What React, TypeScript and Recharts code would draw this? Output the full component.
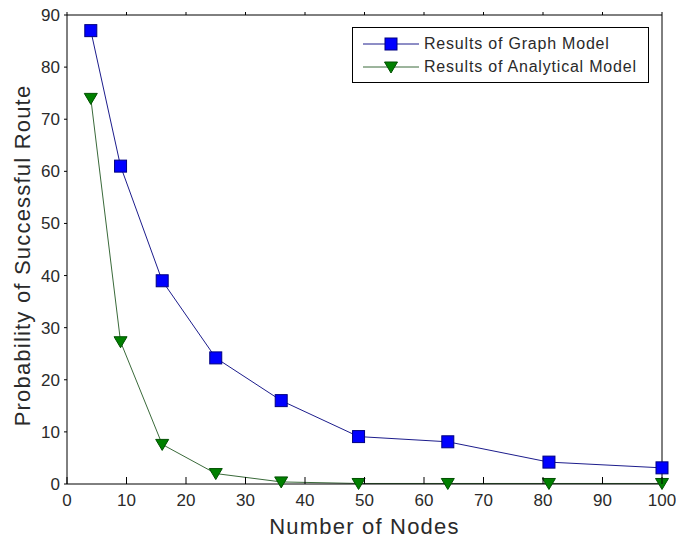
import React from "react";
import { LineChart, Line, XAxis, YAxis, Legend } from "recharts";

const nodes = [4, 9, 16, 25, 36, 49, 64, 81, 100];
const graphModel = [87, 61, 39, 24.2, 16, 9.1, 8.1, 4.2, 3.1];
const analyticalModel = [74, 27.3, 7.6, 2, 0.4, 0.1, 0.1, 0.1, 0.1];
const xTicks = [0, 10, 20, 30, 40, 50, 60, 70, 80, 90, 100];
const yTicks = [0, 10, 20, 30, 40, 50, 60, 70, 80, 90];

const data = nodes.map((n, i) => ({
  n,
  graph: graphModel[i],
  analytical: analyticalModel[i],
}));

const FONT = "'Liberation Sans', Arial, sans-serif";
const TEXT = "#2a2a2a";
const BLUE_LINE = "#1c1c8c";
const GREEN_LINE = "#3a6a3a";

function Square({ cx, cy }: any) {
  return <rect x={cx - 6} y={cy - 6} width={12} height={12} fill="#0000ff" stroke="#000080" strokeWidth={1} />;
}

function Triangle({ cx, cy }: any) {
  return (
    <polygon
      points={`${cx - 6.5},${cy - 5} ${cx + 6.5},${cy - 5} ${cx},${cy + 6}`}
      fill="#008000"
      stroke="#005000"
      strokeWidth={1}
    />
  );
}

// bottom ticks point into the plot, the others point outward (as in the source figure)
function BottomTick({ x, y, payload }: any) {
  return (
    <g>
      <line x1={x} y1={y} x2={x} y2={y - 7} stroke="#000" />
      <text x={x} y={y + 22} textAnchor="middle" fontSize={17} fill={TEXT} fontFamily={FONT}>
        {payload.value}
      </text>
    </g>
  );
}

function TopTick({ x, y }: any) {
  return <line x1={x} y1={y} x2={x} y2={y - 3} stroke="#000" />;
}

function LeftTick({ x, y, payload }: any) {
  return (
    <g>
      <line x1={x} y1={y} x2={x - 3} y2={y} stroke="#000" />
      <text x={x - 7} y={y + 6} textAnchor="end" fontSize={17} fill={TEXT} fontFamily={FONT}>
        {payload.value}
      </text>
    </g>
  );
}

function RightTick({ x, y }: any) {
  return <line x1={x} y1={y} x2={x + 3} y2={y} stroke="#000" />;
}

function LegendBox() {
  const row = (label: string, color: string, marker: React.ReactNode) => (
    <div style={{ display: "flex", alignItems: "center", height: 23 }}>
      <svg width={60} height={16} style={{ marginRight: 3 }}>
        <line x1={2} y1={8} x2={58} y2={8} stroke={color} strokeWidth={1} />
        {marker}
      </svg>
      <span style={{ fontSize: 16, letterSpacing: 0.8, color: TEXT, fontFamily: FONT, whiteSpace: "nowrap" }}>
        {label}
      </span>
    </div>
  );
  return (
    <div
      style={{
        border: "1px solid #000",
        background: "#fff",
        width: 287,
        padding: "4px 0 4px 8px",
      }}
    >
      {row("Results of Graph Model", BLUE_LINE, <Square cx={30} cy={8} />)}
      {row("Results of Analytical Model", GREEN_LINE, <Triangle cx={30} cy={8} />)}
    </div>
  );
}

export default function App() {
  return (
    <div style={{ position: "absolute", left: 0, top: 0, width: 676, height: 540, background: "#fff" }}>
      <LineChart width={676} height={540} data={data} margin={{ top: 14, right: 13, bottom: 0, left: 0 }}>
        <XAxis
          dataKey="n"
          type="number"
          domain={[0, 100]}
          ticks={xTicks}
          xAxisId="bottom"
          orientation="bottom"
          height={56}
          tickSize={0}
          tickMargin={0}
          axisLine={{ stroke: "#000" }}
          tick={<BottomTick />}
          label={({ viewBox }: any) => (
            <text
              x={viewBox.x + viewBox.width / 2}
              y={534}
              textAnchor="middle"
              fontSize={22}
              letterSpacing={1.2}
              fill={TEXT}
              fontFamily={FONT}
            >
              Number of Nodes
            </text>
          )}
        />
        <XAxis
          dataKey="n"
          type="number"
          domain={[0, 100]}
          ticks={xTicks}
          xAxisId="top"
          orientation="top"
          height={1}
          tickSize={0}
          tickMargin={0}
          axisLine={{ stroke: "#000" }}
          tick={<TopTick />}
        />
        <YAxis
          yAxisId="left"
          type="number"
          domain={[0, 90]}
          ticks={yTicks}
          width={67}
          tickSize={0}
          tickMargin={0}
          axisLine={{ stroke: "#000" }}
          tick={<LeftTick />}
          label={({ viewBox }: any) => {
            const cy = viewBox.y + viewBox.height / 2 + 6;
            return (
              <text
                x={30}
                y={cy}
                textAnchor="middle"
                fontSize={22}
                letterSpacing={1.2}
                fill={TEXT}
                fontFamily={FONT}
                transform={`rotate(-90, 30, ${cy})`}
              >
                Probability of Successful Route
              </text>
            );
          }}
        />
        <YAxis
          yAxisId="right"
          orientation="right"
          type="number"
          domain={[0, 90]}
          ticks={yTicks}
          width={1}
          tickSize={0}
          tickMargin={0}
          axisLine={{ stroke: "#000" }}
          tick={<RightTick />}
        />
        <Legend
          layout="vertical"
          align="center"
          verticalAlign="middle"
          wrapperStyle={{ position: "absolute", left: 352, top: 27, width: "auto" }}
          content={() => <LegendBox />}
        />
        <Line
          xAxisId="bottom"
          yAxisId="left"
          dataKey="graph"
          stroke={BLUE_LINE}
          strokeWidth={1}
          dot={<Square />}
          isAnimationActive={false}
        />
        <Line
          xAxisId="bottom"
          yAxisId="left"
          dataKey="analytical"
          stroke={GREEN_LINE}
          strokeWidth={1}
          dot={<Triangle />}
          isAnimationActive={false}
        />
      </LineChart>
    </div>
  );
}
